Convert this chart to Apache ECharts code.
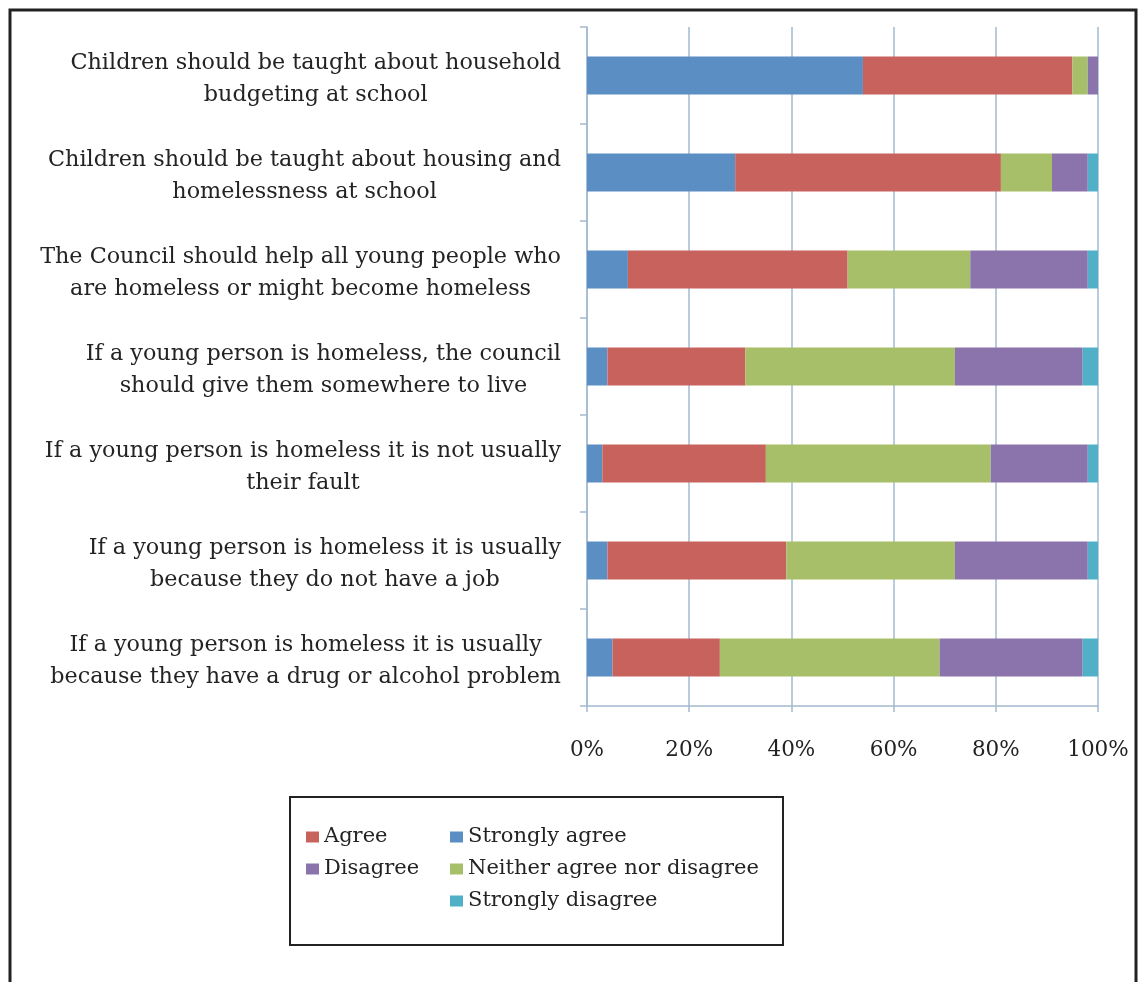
<!DOCTYPE html>
<html>
<head>
<meta charset="utf-8">
<script src="https://cdn.jsdelivr.net/npm/echarts@6/dist/echarts.min.js"></script>
<style>
  html, body { margin: 0; padding: 0; background: #fff; }
  #echarts-container { width: 1144px; height: 982px; }
</style>
</head>
<body>
<div id="echarts-container"></div>
<script>
// statements, top to bottom
var categories = [
  "Children should be taught about household\nbudgeting at school",
  "Children should be taught about housing and\nhomelessness at school",
  "The Council should help all young people who\nare homeless or might become homeless",
  "If a young person is homeless, the council\nshould give them somewhere to live",
  "If a young person is homeless it is not usually\ntheir fault",
  "If a young person is homeless it is usually\nbecause they do not have a job",
  "If a young person is homeless it is usually\nbecause they have a drug or alcohol problem"
];
var stronglyAgree    = [54, 29, 8, 4, 3, 4, 5];
var agree            = [41, 52, 43, 27, 32, 35, 21];
var neither          = [3, 10, 24, 41, 44, 33, 43];
var disagree         = [2, 7, 23, 25, 19, 26, 28];
var stronglyDisagree = [0, 2, 2, 3, 2, 2, 3];
var xTicks = [0, 20, 40, 60, 80, 100];

var colors = {
  "Strongly agree": "#5b8ec3",
  "Agree": "#c8625c",
  "Neither agree nor disagree": "#a7bf69",
  "Disagree": "#8b74ac",
  "Strongly disagree": "#50b0c8"
};
var font = "DejaVu Serif";
var textColor = "#232323";
var axisColor = "#a3bad0";

var dom = document.getElementById("echarts-container");
var myChart = echarts.init(dom, null, { renderer: "canvas" });

function bar(name, data) {
  return {
    name: name,
    type: "bar",
    stack: "total",
    barWidth: 38,
    itemStyle: { color: colors[name] },
    data: data
  };
}

var legendText = { fontFamily: font, fontSize: 21, color: textColor, lineHeight: 22 };

var option = {
  animation: false,
  backgroundColor: "#fff",
  grid: { left: 587, right: 46, top: 27, bottom: 276, containLabel: false },
  xAxis: {
    type: "value",
    min: 0,
    max: 100,
    interval: 20,
    axisLine: { show: true, lineStyle: { color: axisColor, width: 1.5 } },
    axisTick: { show: true, length: 6, lineStyle: { color: axisColor, width: 1.5 } },
    splitLine: { show: true, lineStyle: { color: axisColor, width: 1.5 } },
    axisLabel: {
      margin: 33,
      fontFamily: font,
      fontSize: 21.5,
      color: textColor,
      formatter: function (v) { return xTicks.indexOf(v) >= 0 ? v + "%" : ""; }
    }
  },
  yAxis: {
    type: "category",
    inverse: true,
    data: categories,
    axisLine: { show: true, lineStyle: { color: axisColor, width: 1.5 } },
    axisTick: { show: true, length: 7, lineStyle: { color: axisColor, width: 1.5 } },
    axisLabel: {
      margin: 26,
      align: "right",
      padding: [8, 0, 0, 0],
      formatter: function (v) {
        return v.split("\n").map(function (s) { return "{a|" + s + "}"; }).join("\n");
      },
      rich: {
        a: { align: "center", fontFamily: font, fontSize: 22.3, color: textColor, lineHeight: 32 }
      }
    }
  },
  legend: [
    {
      orient: "vertical",
      left: 306,
      top: 826,
      padding: 0,
      icon: "rect",
      itemWidth: 13,
      itemHeight: 11,
      itemGap: 10,
      selectedMode: false,
      textStyle: legendText,
      data: ["Agree", "Disagree"]
    },
    {
      orient: "vertical",
      left: 450,
      top: 826,
      padding: 0,
      icon: "rect",
      itemWidth: 13,
      itemHeight: 11,
      itemGap: 10,
      selectedMode: false,
      textStyle: legendText,
      data: ["Strongly agree", "Neither agree nor disagree", "Strongly disagree"]
    }
  ],
  graphic: [
    // outer frame
    { type: "rect", shape: { x: 10, y: 10, width: 1126, height: 990 }, style: { fill: "none", stroke: "#222", lineWidth: 3 }, silent: true },
    // legend box
    { type: "rect", shape: { x: 290, y: 797, width: 493, height: 148 }, style: { fill: "none", stroke: "#222", lineWidth: 2 }, silent: true }
  ],
  series: [
    bar("Strongly agree", stronglyAgree),
    bar("Agree", agree),
    bar("Neither agree nor disagree", neither),
    bar("Disagree", disagree),
    bar("Strongly disagree", stronglyDisagree)
  ]
};

myChart.setOption(option);
window.addEventListener("resize", myChart.resize);
</script>
</body>
</html>
